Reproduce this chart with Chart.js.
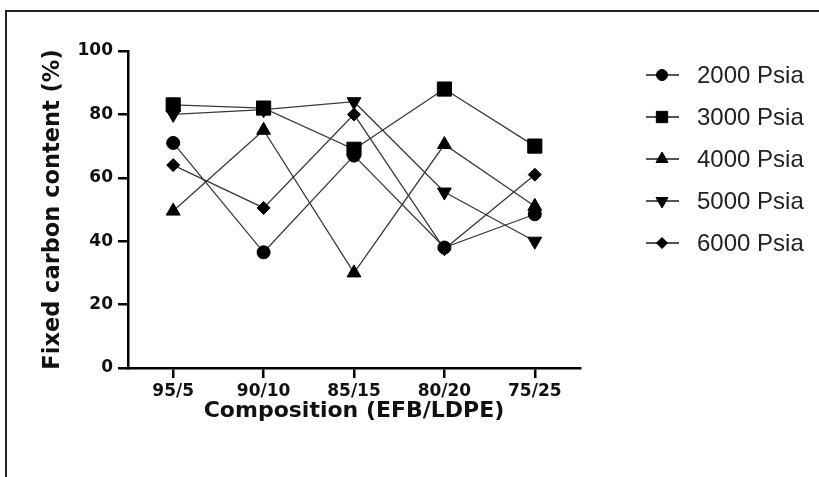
<!DOCTYPE html>
<html>
<head>
<meta charset="utf-8">
<script src="https://cdn.jsdelivr.net/npm/chart.js@4.4.1/dist/chart.umd.min.js"></script>
<style>
  html, body { margin: 0; padding: 0; background: #fff; overflow: hidden; }
  canvas { display: block; }
</style>
</head>
<body>
<canvas id="fc-chart" width="819" height="477"></canvas>
<script>
// Composition categories (EFB/LDPE)
const compositions = ['95/5', '90/10', '85/15', '80/20', '75/25'];

// Fixed carbon content (%) for each pressure
const psia2000 = [71, 36.5, 67, 38, 48.5];
const psia3000 = [83, 82, 69, 88, 70];
const psia4000 = [49.5, 75, 30, 70.5, 51];
const psia5000 = [80, 81.5, 84, 55.5, 40];
const psia6000 = [64, 50.5, 80, 37.5, 61];

const yTicks = [0, 20, 40, 60, 80, 100];

function series(label, data, style, radius, rotation) {
    return {
        label: label,
        data: data,
        borderColor: '#3a3a3a',
        borderWidth: 1.3,
        backgroundColor: '#000',
        pointBackgroundColor: '#000',
        pointBorderColor: '#000',
        pointBorderWidth: 1,
        pointStyle: style,
        pointRadius: radius,
        pointRotation: rotation || 0,
        tension: 0,
        fill: false,
    };
}

// Thin frame round the figure (only top and left edges show)
const frame = {
    id: 'frame',
    beforeDraw(chart) {
        const c = chart.ctx;
        c.save();
        c.strokeStyle = '#222';
        c.lineWidth = 2;
        c.beginPath();
        c.moveTo(6, 477);
        c.lineTo(6, 11);
        c.lineTo(819, 11);
        c.stroke();
        c.restore();
    }
};

// Legend drawn by hand: line with the marker on it, then the label
const sideLegend = {
    id: 'sideLegend',
    afterDraw(chart) {
        const ctx = chart.ctx;
        const rows = [75, 117, 159, 201, 243];
        chart.data.datasets.forEach((ds, i) => {
            const y = rows[i];
            ctx.save();
            ctx.strokeStyle = '#555';
            ctx.lineWidth = 2;
            ctx.beginPath();
            ctx.moveTo(646, y);
            ctx.lineTo(679, y);
            ctx.stroke();
            ctx.fillStyle = '#000';
            ctx.strokeStyle = '#000';
            ctx.lineWidth = 1;
            const r = ds.pointStyle === 'rect' ? 8 : (ds.pointStyle === 'circle' || ds.pointStyle === 'rectRot') ? 5.5 : 7;
            Chart.helpers.drawPoint(ctx, { pointStyle: ds.pointStyle, rotation: ds.pointRotation, radius: r, borderWidth: 1 }, 662, y);
            ctx.fillStyle = '#222';
            ctx.font = '24px "Liberation Sans", Arial, sans-serif';
            ctx.textBaseline = 'middle';
            ctx.textAlign = 'left';
            ctx.fillText(ds.label, 697, y + 1);
            ctx.restore();
        });
    }
};

const ctx = document.getElementById('fc-chart').getContext('2d');
new Chart(ctx, {
    type: 'line',
    data: {
        labels: compositions,
        datasets: [
            series('2000 Psia', psia2000, 'circle', 6.5),
            series('3000 Psia', psia3000, 'rect', 10),
            series('4000 Psia', psia4000, 'triangle', 8),
            series('5000 Psia', psia5000, 'triangle', 8, 180),
            series('6000 Psia', psia6000, 'rectRot', 6.5),
        ]
    },
    options: {
        responsive: false,
        animation: false,
        layout: {
            padding: { left: 40, top: 51, right: 239, bottom: 53 }
        },
        scales: {
            x: {
                offset: true,
                afterFit: function(scale) { scale.height = 56; },
                grid: {
                    offset: false,
                    drawOnChartArea: false,
                    drawTicks: true,
                    tickLength: 10,
                    color: '#000',
                    lineWidth: 2.5,
                },
                border: { display: true, color: '#000', width: 2.5 },
                ticks: {
                    color: '#111',
                    padding: 3,
                    font: { family: '"DejaVu Sans", sans-serif', size: 17, weight: 'bold' },
                },
                title: {
                    display: true,
                    text: 'Composition (EFB/LDPE)',
                    color: '#111',
                    padding: 0,
                    font: { family: '"DejaVu Sans", sans-serif', size: 22, weight: 'bold' },
                }
            },
            y: {
                min: 0,
                max: 100,
                afterFit: function(scale) { scale.width = 88; },
                afterBuildTicks: function(scale) {
                    scale.ticks = yTicks.map(v => ({ value: v }));
                },
                grid: {
                    drawOnChartArea: false,
                    drawTicks: true,
                    tickLength: 10,
                    color: '#000',
                    lineWidth: 2.5,
                },
                border: { display: true, color: '#000', width: 2.5 },
                ticks: {
                    color: '#111',
                    padding: 5,
                    font: { family: '"DejaVu Sans", sans-serif', size: 17, weight: 'bold' },
                },
                title: {
                    display: true,
                    text: 'Fixed carbon content (%)',
                    color: '#111',
                    padding: 0,
                    font: { family: '"DejaVu Sans", sans-serif', size: 22.5, weight: 'bold' },
                }
            }
        },
        plugins: {
            legend: { display: false },
            tooltip: { enabled: false },
        }
    },
    plugins: [frame, sideLegend]
});
</script>
</body>
</html>
